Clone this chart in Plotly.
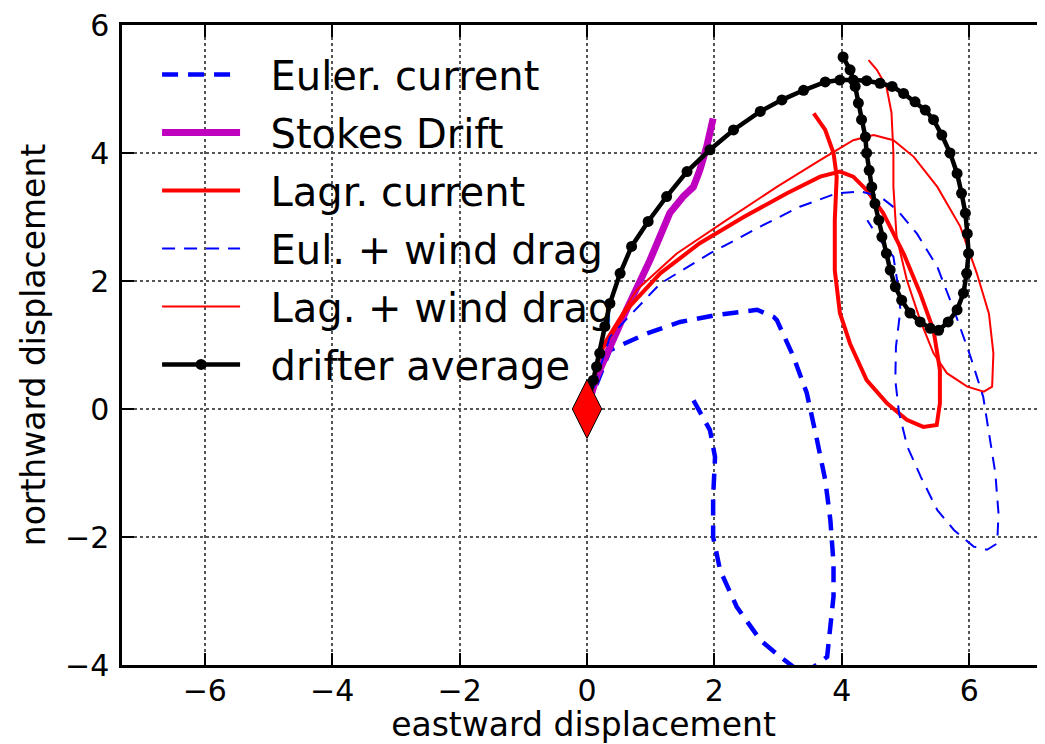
import plotly.graph_objects as go

# ---- data ----
euler_x = [0.0, 0.36, 0.94, 1.46, 2.04, 2.67, 2.93, 2.98, 3.24, 3.45, 3.61, 3.74, 3.82, 3.87, 3.87, 3.82, 3.77,
           3.40, 3.03, 2.72, 2.35, 2.09, 1.98, 1.98, 2.01, 1.93, 1.77, 1.67]
euler_y = [0.0, 0.92, 1.18, 1.36, 1.47, 1.55, 1.44, 1.39, 0.82, 0.25, -0.48, -1.11, -1.73, -2.41, -2.93, -3.45, -3.87,
           -4.15, -3.87, -3.61, -3.09, -2.52, -2.00, -1.38, -0.75, -0.33, -0.02, 0.14]

stokes_x = [0.0, 0.15, 0.62, 0.99, 1.30, 1.51, 1.67, 1.77, 1.88, 1.98]
stokes_y = [0.0, 0.50, 1.55, 2.33, 3.06, 3.32, 3.47, 3.73, 4.10, 4.54]

lagr_x = [0.0, 0.20, 0.62, 1.15, 1.77, 2.46, 3.14, 3.66, 3.97, 4.18, 4.39, 4.65, 4.97, 5.23, 5.44, 5.54, 5.54, 5.49,
          5.28, 5.02, 4.71, 4.39, 4.13, 3.97, 3.89, 3.89, 3.92, 3.87, 3.74, 3.56]
lagr_y = [0.0, 0.87, 1.55, 2.12, 2.59, 3.00, 3.37, 3.63, 3.71, 3.63, 3.42, 3.06, 2.43, 1.81, 1.23, 0.61, 0.09, -0.25,
          -0.28, -0.17, 0.09, 0.45, 1.02, 1.50, 2.17, 2.95, 3.63, 4.00, 4.36, 4.62]

eulw_x = [0.0, 0.36, 1.15, 1.93, 2.72, 3.34, 3.92, 4.29, 4.60, 4.87, 5.18, 5.50, 5.76, 6.02, 6.22, 6.33, 6.41, 6.46,
          6.44, 6.28, 6.07, 5.76, 5.50, 5.24, 5.03, 4.90, 4.84, 4.85, 4.92, 4.88, 4.81, 4.60, 4.40]
eulw_y = [0.0, 1.13, 1.96, 2.43, 2.85, 3.16, 3.37, 3.40, 3.32, 3.11, 2.74, 2.22, 1.55, 0.82, 0.19, -0.48, -1.00, -1.63,
          -2.10, -2.20, -2.15, -1.89, -1.58, -1.06, -0.59, -0.07, 0.45, 0.97, 1.55, 1.94, 2.38, 2.64, 2.95]

lagw_x = [0.0, 0.26, 0.78, 1.41, 2.19, 2.98, 3.66, 4.18, 4.50, 4.81, 5.13, 5.50, 5.86, 6.12, 6.31, 6.38, 6.36, 6.23,
          5.97, 5.65, 5.44, 5.23, 5.02, 4.86, 4.81, 4.81, 4.78, 4.70, 4.55, 4.42]
lagw_y = [0.0, 1.03, 1.86, 2.43, 2.95, 3.47, 3.89, 4.20, 4.28, 4.20, 3.94, 3.47, 2.85, 2.12, 1.49, 0.87, 0.35, 0.27,
          0.35, 0.56, 0.87, 1.39, 2.02, 2.69, 3.47, 4.00, 4.63, 5.04, 5.30, 5.45]

drift_x = [0.0, 0.10, 0.15, 0.20, 0.28, 0.36, 0.52, 0.70, 0.96, 1.25, 1.57, 1.93, 2.30, 2.72, 3.06, 3.40, 3.74, 3.97,
           4.18, 4.39, 4.60, 4.79, 4.97, 5.15, 5.31, 5.44, 5.57, 5.70, 5.81, 5.88, 5.94, 5.97, 5.99, 5.96, 5.91,
           5.81, 5.67, 5.52, 5.39, 5.23, 5.07, 4.94, 4.84, 4.76, 4.70, 4.63, 4.58, 4.52, 4.47, 4.43, 4.39, 4.37,
           4.31, 4.26, 4.21, 4.13, 4.02]
drift_y = [0.0, 0.45, 0.66, 0.87, 1.29, 1.65, 2.12, 2.54, 2.93, 3.32, 3.71, 4.05, 4.36, 4.65, 4.83, 4.98, 5.11, 5.14,
           5.14, 5.13, 5.09, 5.04, 4.93, 4.80, 4.67, 4.52, 4.28, 4.00, 3.68, 3.37, 3.06, 2.74, 2.43, 2.12, 1.81,
           1.55, 1.36, 1.23, 1.26, 1.36, 1.50, 1.70, 1.91, 2.17, 2.43, 2.69, 2.95, 3.21, 3.47, 3.73, 4.00, 4.25,
           4.52, 4.78, 5.04, 5.30, 5.50]

start_x = [0.0]
start_y = [0.0]

x_ticks = [-6, -4, -2, 0, 2, 4, 6]
y_ticks = [-4, -2, 0, 2, 4, 6]

FONT = "DejaVu Sans"
PAD = "\u00a0\u00a0"  # small visual gap between legend sample and text

fig = go.Figure()

def add(name, x, y, color, width, dash=None, **kw):
    fig.add_trace(go.Scatter(x=x, y=y, name=PAD + name, mode=kw.pop("mode", "lines"),
                             line=dict(color=color, width=width, dash=dash),
                             legendgroup=name, **kw))

add("Euler. current", euler_x, euler_y, "#0000ff", 4.5, "16px,10px")
add("Stokes Drift", stokes_x, stokes_y, "#bf00bf", 7)
add("Lagr. current", lagr_x, lagr_y, "#ff0000", 4)
add("Eul. + wind drag", eulw_x, eulw_y, "#0000ff", 2, "13px,9px")
add("Lag. + wind drag", lagw_x, lagw_y, "#ff0000", 2)
add("drifter average", drift_x, drift_y, "#000000", 4.5, mode="lines+markers",
    marker=dict(size=11, color="#000000"))

fig.add_trace(go.Scatter(x=start_x, y=start_y, mode="markers", showlegend=False,
                         marker=dict(symbol="diamond-tall", size=42, color="#ff0000",
                                     line=dict(color="#000000", width=1))))

axis_common = dict(
    showline=True, linecolor="#000000", linewidth=2.5,
    ticks="inside", ticklen=12, tickwidth=1.5, tickcolor="#000000",
    showgrid=True, gridcolor="#555555", gridwidth=1.5, griddash="dot",
    zeroline=False, tickfont=dict(family=FONT, size=30, color="#000000"),
    automargin=False, ticklabeloverflow="allow",
)

def lab(v):
    return "\u2212" + str(-v) if v < 0 else str(v)

fig.update_xaxes(range=[-7.3, 7.19], tickvals=x_ticks, ticktext=[lab(v) for v in x_ticks],
                 mirror="ticks", ticklabelstandoff=-3,
                 title=dict(text="eastward displacement", font=dict(family=FONT, size=33, color="#000000"), standoff=13),
                 **axis_common)
fig.update_yaxes(range=[-4, 6], tickvals=y_ticks, ticktext=[lab(v) for v in y_ticks],
                 ticklabelstandoff=4,
                 title=dict(text="northward displacement", font=dict(family=FONT, size=33, color="#000000"), standoff=10),
                 **axis_common)

fig.update_layout(
    width=1037, height=736,
    margin=dict(l=114, r=0, t=17, b=79),
    paper_bgcolor="#ffffff", plot_bgcolor="#ffffff",
    font=dict(family=FONT, color="#000000"),
    legend=dict(x=0.038, y=0.9735, xanchor="left", yanchor="top",
                bgcolor="rgba(0,0,0,0)", borderwidth=0,
                font=dict(family=FONT, size=40, color="#000000"),
                tracegroupgap=3, itemwidth=78),
)

fig.write_html("out.html")
